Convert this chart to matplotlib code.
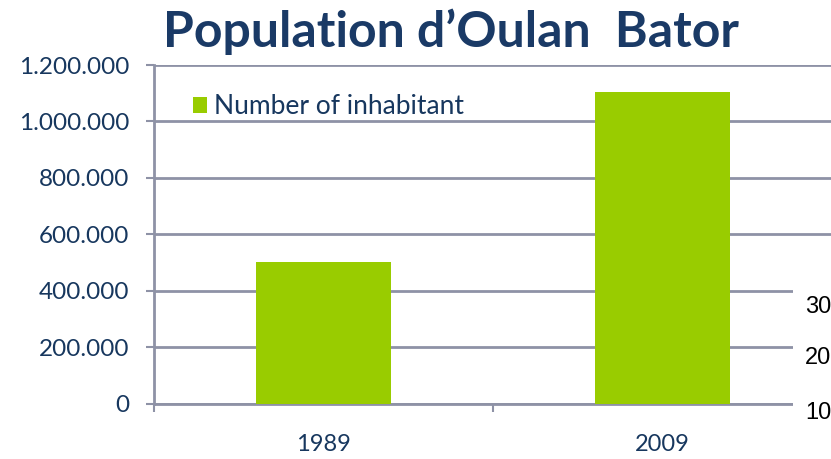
import matplotlib.pyplot as plt
from matplotlib.ticker import FuncFormatter, FixedLocator
from matplotlib.patches import Rectangle

years = ["1989", "2009"]
inhabitants = [500000, 1105000]
series_name = "Number of inhabitant"
title = "Population d\u2019Oulan  Bator"
# fragments of another chart that overlaps the lower right corner
cut_labels = ["30", "20", "10"]

navy = "#17375E"
green = "#99CC00"
grid_col = "#8E92A6"

plt.rcParams['font.family'] = ['Lato', 'DejaVu Sans']

fig = plt.figure(figsize=(8.31, 4.59), dpi=100)
ax = fig.add_axes([154 / 831, 1 - 403.5 / 459, 678 / 831, 338.5 / 459])

x = list(range(len(years)))
ax.bar(x, inhabitants, width=0.4, color=green, label=series_name, zorder=3)

ax.set_xlim(-0.5, len(years) - 0.5)
ax.set_ylim(0, 1200000)
ax.set_yticks(range(0, 1200001, 200000))
ax.yaxis.set_major_formatter(FuncFormatter(lambda v, p: f"{int(v):,}".replace(",", ".")))
ax.set_xticks(x)
ax.set_xticklabels(years)
ax.xaxis.set_minor_locator(FixedLocator([i - 0.5 for i in range(len(years) + 1)]))

ax.tick_params(axis='y', length=6, width=1.5, color=grid_col, labelcolor=navy,
               labelsize=17.5, pad=12)
ax.tick_params(axis='x', which='major', length=0, labelcolor=navy, labelsize=17, pad=22)
ax.tick_params(axis='x', which='minor', length=6, width=1.5, color=grid_col)

ax.grid(axis='y', color=grid_col, linewidth=2, zorder=0)
ax.set_axisbelow(True)
for s in ['top', 'right']:
    ax.spines[s].set_visible(False)
for s in ['left', 'bottom']:
    ax.spines[s].set_color(grid_col)
    ax.spines[s].set_linewidth(2)

leg = ax.legend(loc='center left', bbox_to_anchor=(0.0575, 0.876), frameon=False,
                fontsize=19, handlelength=0.55, handleheight=0.55, handletextpad=0.25,
                borderaxespad=0, borderpad=0)
for t in leg.get_texts():
    t.set_color(navy)

fig.text(451 / 831, 1 - 32 / 459, title, ha='center', va='center', fontsize=36,
         fontweight='bold', color="#1A3A66")

# overlapping chart piece at the lower right
fig.patches.append(Rectangle((793 / 831, 0), 40 / 831, 190 / 459, transform=fig.transFigure,
                             facecolor='white', edgecolor='none', zorder=5))
for lab, yy in zip(cut_labels, [307, 358, 413]):
    fig.text(805 / 831, 1 - yy / 459, lab, ha='left', va='center', fontsize=17,
             family='Liberation Sans', color='black', zorder=6)

fig.savefig("out.png", dpi=100)
